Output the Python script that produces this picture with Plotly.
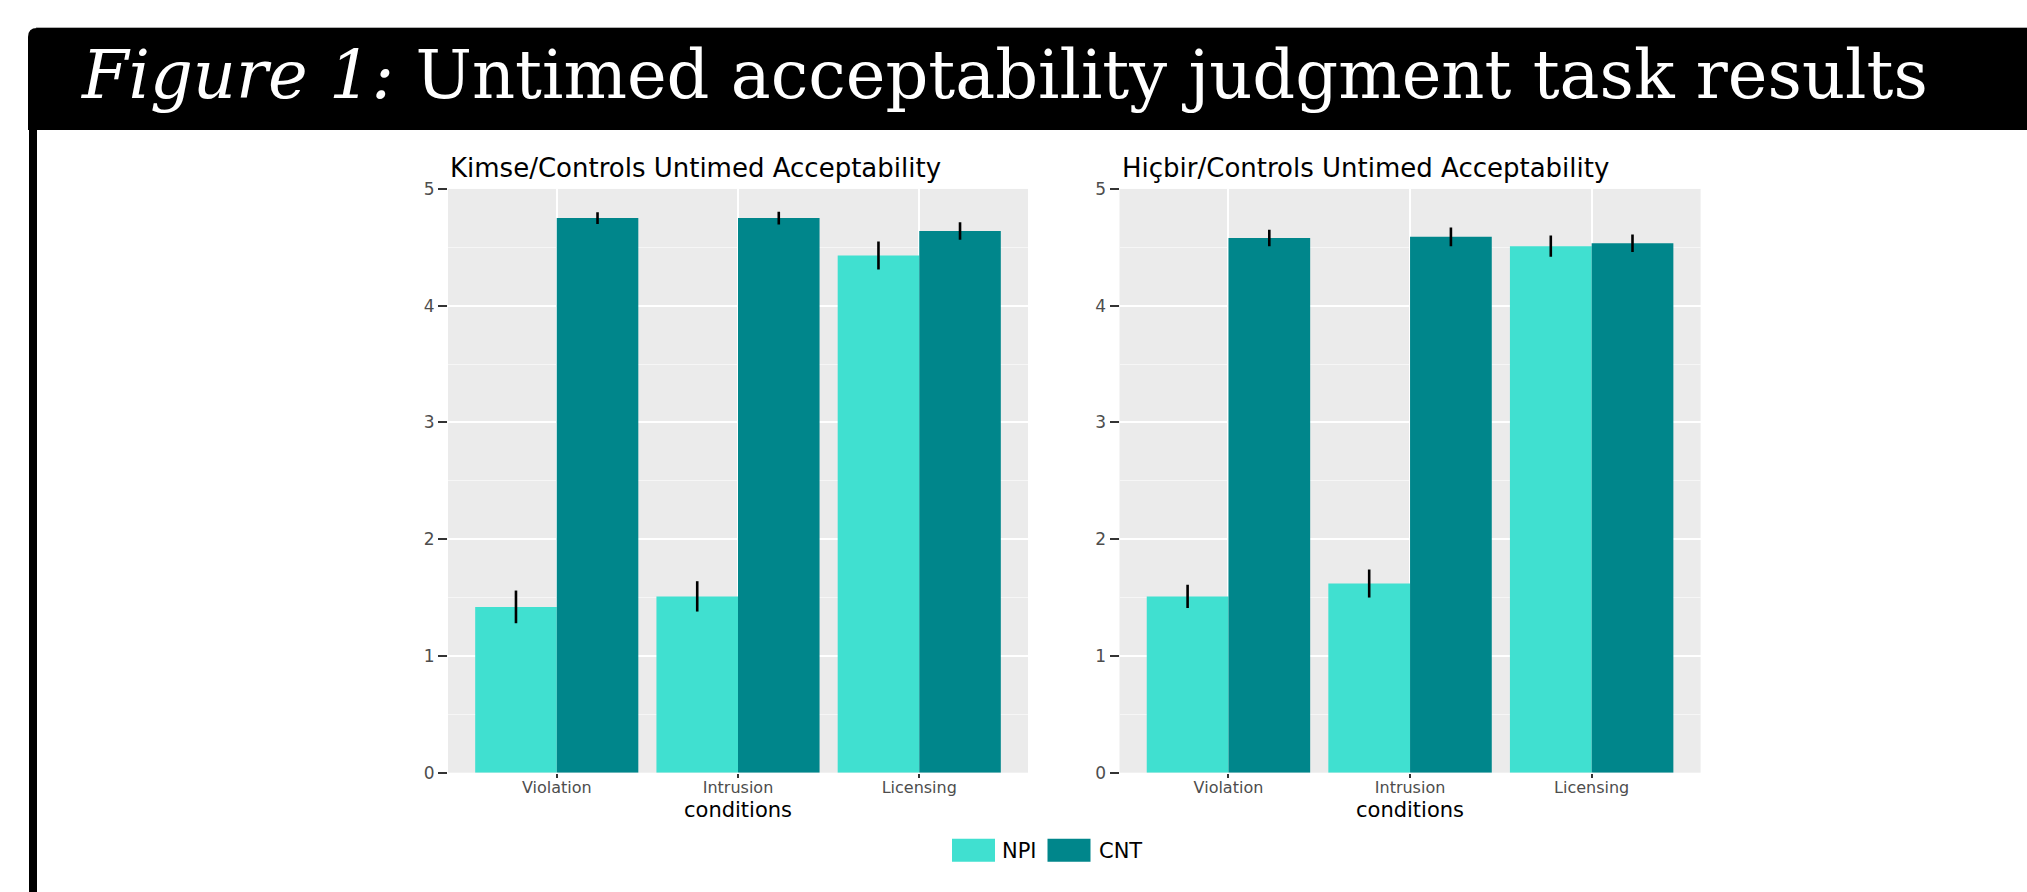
import plotly.graph_objects as go

# ---------------- data ----------------
conditions = ["Violation", "Intrusion", "Licensing"]
series_names = ["NPI", "CNT"]
series_colors = ["#40E0D0", "#00868B"]

kimse_npi = [1.42, 1.51, 4.43]
kimse_npi_err = [0.14, 0.13, 0.12]
kimse_cnt = [4.75, 4.75, 4.64]
kimse_cnt_err = [0.05, 0.055, 0.075]

hicbir_npi = [1.51, 1.62, 4.51]
hicbir_npi_err = [0.10, 0.12, 0.09]
hicbir_cnt = [4.58, 4.59, 4.535]
hicbir_cnt_err = [0.07, 0.08, 0.075]

panel_titles = ["Kimse/Controls Untimed Acceptability", "Hiçbir/Controls Untimed Acceptability"]
y_ticks = [0, 1, 2, 3, 4, 5]
main_title = "<i>Figure 1:</i> Untimed acceptability judgment task results"
x_title = "conditions"

# ---------------- layout helpers ----------------
W, H = 2027, 892
def fx(px):
    return px / W
def fy(py):
    # vertical placement helper (pixel from top -> paper fraction), with a small calibration
    return 1 - ((py - 9) / 0.978) / H

fig = go.Figure()

panels = [
    (kimse_npi, kimse_npi_err, kimse_cnt, kimse_cnt_err, "x", "y"),
    (hicbir_npi, hicbir_npi_err, hicbir_cnt, hicbir_cnt_err, "x2", "y2"),
]
for npi, npi_err, cnt, cnt_err, xa, ya in panels:
    for vals, errs, name, color in [(npi, npi_err, series_names[0], series_colors[0]),
                                    (cnt, cnt_err, series_names[1], series_colors[1])]:
        fig.add_trace(go.Bar(
            x=conditions, y=vals, name=name, marker_color=color,
            marker_line_width=0, showlegend=False, xaxis=xa, yaxis=ya,
            offsetgroup=name,
            error_y=dict(type="data", array=errs, visible=True, width=0,
                         thickness=2.6, color="black"),
        ))

axis_common_x = dict(
    type="category", range=[-0.6, 2.6], showgrid=True, gridcolor="white", gridwidth=2,
    ticks="outside", ticklen=4, tickwidth=1.5, tickcolor="#333333",
    tickfont=dict(family="DejaVu Sans", size=16, color="#4D4D4D"),
    ticklabelstandoff=-4,
    showline=False, zeroline=False,
)
axis_common_y = dict(
    range=[0, 5], tickvals=y_ticks, showgrid=True, gridcolor="white", gridwidth=2,
    minor=dict(dtick=0.5, showgrid=True, gridcolor="#F6F6F6", gridwidth=1),
    ticks="outside", ticklen=9, tickwidth=1.5, tickcolor="#333333",
    tickfont=dict(family="DejaVu Sans", size=17, color="#4D4D4D"),
    showline=False, zeroline=False,
)

panel_x = [(448, 1028), (1119.5, 1700.6)]
ydom = [fy(772), fy(188)]
fig.update_layout(
    width=W, height=H, margin=dict(l=0, r=0, t=0, b=0),
    paper_bgcolor="white", plot_bgcolor="#EBEBEB",
    barmode="group", bargap=0.1, bargroupgap=0,
    showlegend=False,
    xaxis=dict(domain=[fx(panel_x[0][0]), fx(panel_x[0][1])], anchor="y", **axis_common_x),
    yaxis=dict(domain=ydom, anchor="x", **axis_common_y),
    xaxis2=dict(domain=[fx(panel_x[1][0]), fx(panel_x[1][1])], anchor="y2", **axis_common_x),
    yaxis2=dict(domain=ydom, anchor="x2", **axis_common_y),
)

# panel titles and x-axis titles
for title, (left, right) in zip(panel_titles, panel_x):
    fig.add_annotation(text=title, x=fx(left), y=fy(167), xref="paper", yref="paper",
                       xanchor="left", yanchor="middle", showarrow=False,
                       font=dict(family="DejaVu Sans", size=26, color="black"))
    fig.add_annotation(text=x_title, x=fx((left + right) / 2), y=fy(809), xref="paper", yref="paper",
                       xanchor="center", yanchor="middle", showarrow=False,
                       font=dict(family="DejaVu Sans", size=21, color="black"))

# header bar (rounded top-left corner) and left border
fig.add_shape(type="path", xref="paper", yref="paper",
              path=(f"M {fx(28)},{fy(129)} L {fx(28)},{fy(36)} Q {fx(28)},{fy(27)} {fx(37)},{fy(27)} "
                    f"L {fx(2027)},{fy(27)} L {fx(2027)},{fy(129)} Z"),
              fillcolor="black", line=dict(width=0))
fig.add_shape(type="line", xref="paper", yref="paper", x0=fx(36), x1=fx(2027), y0=fy(26.5), y1=fy(26.5),
              line=dict(color="#B0B0B0", width=1))
fig.add_shape(type="rect", xref="paper", yref="paper", x0=fx(29), x1=fx(37), y0=fy(905), y1=fy(129),
              fillcolor="black", line=dict(width=0))

fig.add_annotation(text=main_title, x=fx(78), y=fy(74), xref="paper", yref="paper",
                   xanchor="left", yanchor="middle", showarrow=False,
                   font=dict(family="DejaVu Serif", size=67, color="white"))

# custom legend (large swatches like the original)
sw_x = [952, 1047.5]
txt_x = [999.5, 1097]
for name, color, sx, tx in zip(series_names, series_colors, sw_x, txt_x):
    fig.add_shape(type="rect", xref="paper", yref="paper", x0=fx(sx), x1=fx(sx + 43),
                  y0=fy(861), y1=fy(838), fillcolor=color, line=dict(width=0))
    fig.add_annotation(text=name, x=fx(tx), y=fy(850), xref="paper", yref="paper",
                       xanchor="left", yanchor="middle", showarrow=False,
                       font=dict(family="DejaVu Sans", size=21, color="black"))

fig.write_html("out.html")
